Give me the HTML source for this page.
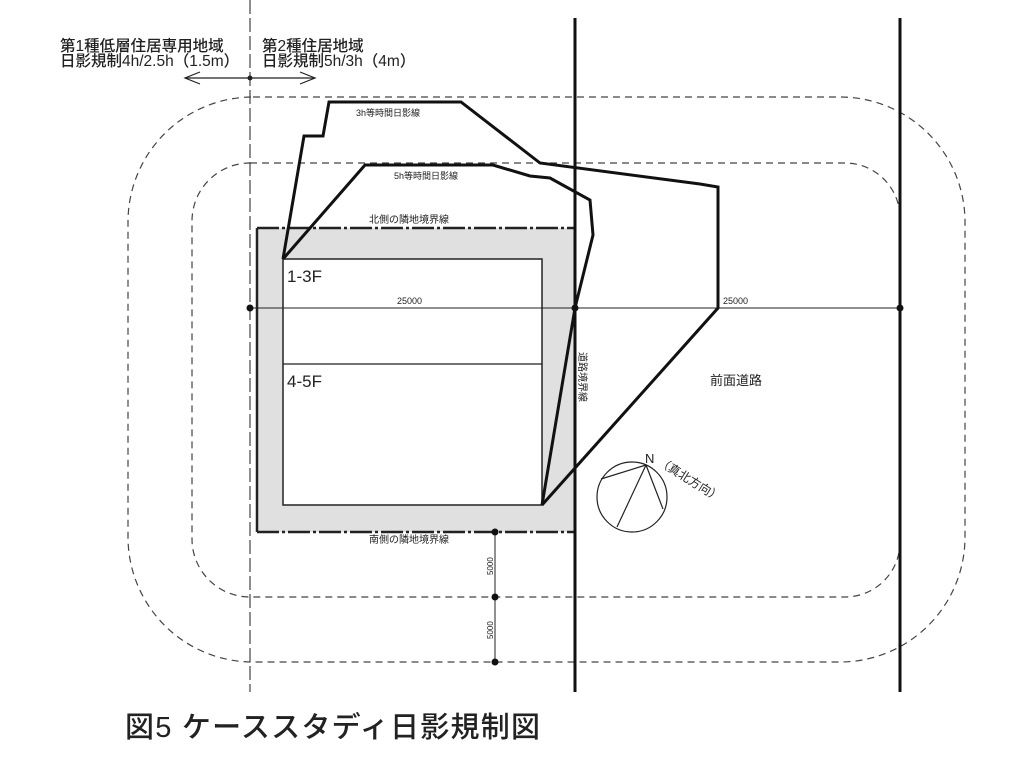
<!DOCTYPE html>
<html><head><meta charset="utf-8"><style>
html,body{margin:0;padding:0;background:#fff;}
svg{display:block;}
text{font-family:"Liberation Sans","Noto Sans CJK JP",sans-serif;fill:#222;}
</style></head><body>
<svg width="1024" height="765" viewBox="0 0 1024 765" xmlns="http://www.w3.org/2000/svg">
<rect x="257" y="228" width="318" height="304" fill="#e0e0e0"/>
<rect x="283" y="259" width="259" height="246" fill="#fff" stroke="#222" stroke-width="1.5"/>
<line x1="283" y1="364" x2="542" y2="364" stroke="#222" stroke-width="1.2"/>
<g stroke="#222" stroke-width="2.5" fill="none" stroke-dasharray="22 3 3 3">
<line x1="257" y1="228" x2="575" y2="228"/>
<line x1="257" y1="532" x2="575" y2="532"/>
</g>
<line x1="257" y1="228" x2="257" y2="532" stroke="#222" stroke-width="2.5"/>
<g fill="none" stroke="#444" stroke-width="1.2" stroke-dasharray="7 5">
<rect x="128" y="97" width="837" height="565" rx="125" ry="125"/>
<path d="M250 163 H845 A55 55 0 0 1 900 218 M900 541 A55 55 0 0 1 845 597 H250 A58 58 0 0 1 192 539 V221 A58 58 0 0 1 250 163"/>
</g>
<line x1="250" y1="0" x2="250" y2="692" stroke="#444" stroke-width="1.2" stroke-dasharray="14 4"/>
<line x1="575" y1="18" x2="575" y2="692" stroke="#111" stroke-width="3"/>
<line x1="900" y1="18" x2="900" y2="692" stroke="#111" stroke-width="3"/>
<line x1="250" y1="308" x2="900" y2="308" stroke="#222" stroke-width="1"/>
<circle cx="250" cy="308" r="3.5" fill="#111"/><circle cx="575" cy="308" r="3.5" fill="#111"/><circle cx="900" cy="308" r="3.5" fill="#111"/>
<line x1="495" y1="532" x2="495" y2="662" stroke="#222" stroke-width="1"/>
<circle cx="495" cy="532" r="3.5" fill="#111"/><circle cx="495" cy="597" r="3.5" fill="#111"/><circle cx="495" cy="662" r="3.5" fill="#111"/>
<g stroke="#222" stroke-width="1.2" fill="none">
<line x1="185" y1="78" x2="315" y2="78"/>
<polyline points="200,72 185,78 200,84"/>
<polyline points="300,72 315,78 300,84"/>
</g>
<circle cx="250" cy="78" r="2.5" fill="#222"/>
<g fill="none" stroke="#111" stroke-width="3" stroke-linejoin="miter">
<polyline points="283,259 304,136 323,136 329,102 461,102 540,163 700,184 718,187 718,308 542,505"/>
<polyline points="283,259 365,165 493,165 530,176 550,178 590,200 593,235 575,308 542,505"/>
</g>
<g fill="none" stroke="#222" stroke-width="1.2">
<circle cx="632" cy="497" r="35"/>
<line x1="646" y1="465" x2="617" y2="527"/>
<line x1="646" y1="465" x2="601" y2="479"/>
<line x1="646" y1="465" x2="663" y2="509"/>
</g>
<text x="645" y="463" font-size="13">N</text>
<text x="0" y="0" font-size="12" transform="translate(657,464) rotate(32)">（真北方向）</text>
<text x="60" y="51" font-size="15.5" font-weight="500">第1種低層住居専用地域</text>
<text x="60" y="66" font-size="15.5" font-weight="500">日影規制4h/2.5h（1.5m）</text>
<text x="262" y="51" font-size="15.5" font-weight="500">第2種住居地域</text>
<text x="262" y="66" font-size="15.5" font-weight="500">日影規制5h/3h（4m）</text>
<text x="356" y="116" font-size="9">3h等時間日影線</text>
<text x="394" y="179" font-size="9">5h等時間日影線</text>
<text x="369" y="223" font-size="10">北側の隣地境界線</text>
<text x="369" y="543" font-size="10">南側の隣地境界線</text>
<text x="397" y="304" font-size="9">25000</text>
<text x="723" y="304" font-size="9">25000</text>
<text x="287" y="282" font-size="17" font-weight="500">1-3F</text>
<text x="287" y="387" font-size="17" font-weight="500">4-5F</text>
<text x="710" y="385" font-size="13">前面道路</text>
<text font-size="10" transform="translate(579,352) rotate(90)">道路境界線</text>
<text font-size="8" transform="translate(493,575) rotate(-90)">5000</text>
<text font-size="8" transform="translate(493,639) rotate(-90)">5000</text>
<text x="125" y="737" font-size="29" font-weight="500" textLength="415">図5 ケーススタディ日影規制図</text>
</svg>
</body></html>
